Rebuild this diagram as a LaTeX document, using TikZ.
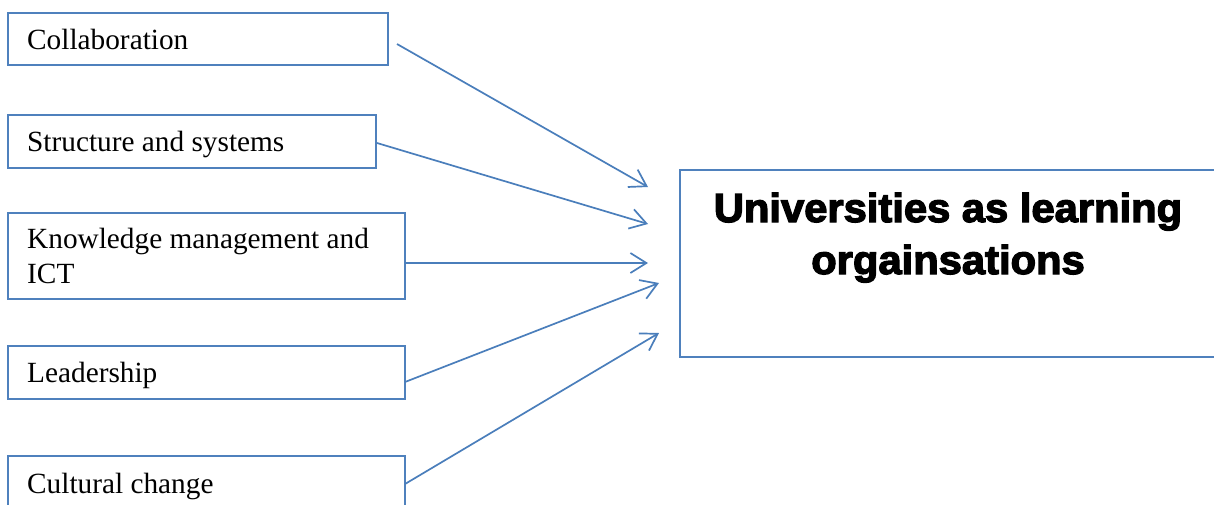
\documentclass[tikz,border=0pt]{standalone}
\usepackage{fontspec}
\setmainfont{Liberation Serif}
\newfontfamily\heavyfont[BoldFeatures={FakeBold=3.2,FakeStretch=1.03}]{Liberation Sans}
\usetikzlibrary{arrows.meta}
\definecolor{boxblue}{HTML}{4F81BD}
\definecolor{arrowblue}{HTML}{4A7EBB}
\begin{document}
\begin{tikzpicture}[x=1pt,y=-1pt,
  boxstyle/.style={draw=boxblue, line width=1.8pt, inner sep=0pt, outer sep=0pt, anchor=north west},
  lbl/.style={anchor=base west, inner sep=0pt, font=\fontsize{29.3}{35}\selectfont},
  conn/.style={draw=arrowblue, line width=1.7pt, -{Straight Barb[length=16pt,width=20pt,line width=1.7pt]}}]
\useasboundingbox (0,0) rectangle (1214,504);
% boxes
\node[boxstyle, minimum width=380pt, minimum height=52pt] (collab) at (8,13) {};
\node[boxstyle, minimum width=368pt, minimum height=53pt] (struct) at (8,115) {};
\node[boxstyle, minimum width=397pt, minimum height=86pt] (know) at (8,213) {};
\node[boxstyle, minimum width=397pt, minimum height=53pt] (lead) at (8,346) {};
\node[boxstyle, minimum width=397pt, minimum height=54pt] (cult) at (8,456) {};
\node[boxstyle, minimum width=536pt, minimum height=187pt] (univ) at (680,170) {};
% labels
\node[lbl] (collabT) at (27,49) {Collaboration};
\node[lbl] (structT) at (27,151) {Structure and systems};
\node[lbl] (knowT) at (27,248) {\vtop{\halign{#\hfil\cr Knowledge management and\cr ICT\cr}}};
\node[lbl] (leadT) at (27,382) {Leadership};
\node[lbl] (cultT) at (27,493) {Cultural change};
\node[anchor=base, inner sep=0pt, font=\heavyfont\bfseries\fontsize{40.5}{52}\selectfont] (univT) at (948,222)
  {\vtop{\halign{\hfil#\hfil\cr Universities as learning\cr orgainsations\cr}}};
% connector ends
\coordinate (s1) at (397,44);
\coordinate (s2) at (377,143);
\coordinate (s3) at (405,263);
\coordinate (s4) at (405,382);
\coordinate (s5) at (405,484);
\coordinate (e1) at (648,187);
\coordinate (e2) at (648,224);
\coordinate (e3) at (648,263);
\coordinate (e4) at (659,283);
\coordinate (e5) at (659,333);
\draw[conn] (s1) -- (e1);
\draw[conn] (s2) -- (e2);
\draw[conn] (s3) -- (e3);
\draw[conn] (s4) -- (e4);
\draw[conn] (s5) -- (e5);
\end{tikzpicture}
\end{document}
